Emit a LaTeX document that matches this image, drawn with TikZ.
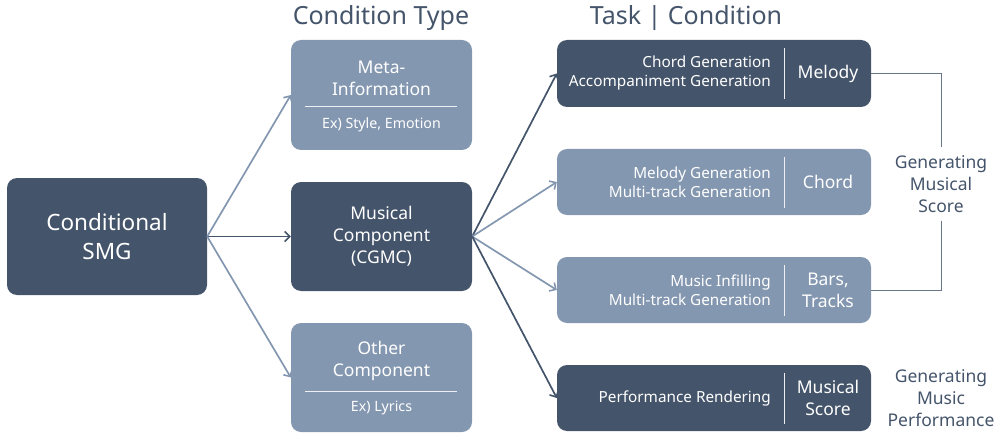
\documentclass[tikz,border=0pt]{standalone}
\usepackage{fontspec}
\setmainfont{Noto Sans}
\usetikzlibrary{arrows.meta}
\definecolor{darkbox}{HTML}{44546A}
\definecolor{lightbox}{HTML}{8497B0}
\definecolor{labeltext}{HTML}{44546A}
\tikzset{
  card/.style={rectangle, rounded corners=10pt, draw=none, text=white, align=center, inner sep=0pt},
  darkcard/.style={card, fill=darkbox},
  lightcard/.style={card, fill=lightbox},
  link/.style={line width=1.7pt, -{Straight Barb[length=5pt,width=10pt,line width=1.6pt]}},
  sep/.style={draw=white!85!lightbox, line width=1pt},
  header/.style={text=labeltext, font=\fontsize{25}{28}\selectfont},
  side/.style={text=labeltext, align=center, font=\fontsize{17.5}{22}\selectfont},
  big/.style={font=\fontsize{22.5}{29}\selectfont},
  mid/.style={font=\fontsize{17.5}{22}\selectfont},
  small/.style={font=\fontsize{15.3}{19}\selectfont, align=right, text=white, inner sep=0pt},
  note/.style={font=\fontsize{14.2}{18}\selectfont, align=center, text=white},
}
\begin{document}
\begin{tikzpicture}[x=1pt, y=-1pt]
\useasboundingbox (0,0) rectangle (1001,433);

% headers
\node[header] (hcond) at (381,18) {Condition Type};
\node[header] (htask) at (686,18) {Task | Condition};

% root
\node[darkcard, big, minimum width=200pt, minimum height=117pt] (smg) at (107,236.5) {Conditional\\SMG};

% condition types
\node[lightcard, minimum width=181pt, minimum height=110pt] (meta) at (381.5,95) {};
\node[mid, text=white, align=center] (metat) at (381.5,78.5) {Meta-\\Information};
\draw[sep] (305,107) -- (457,107);
\node[note] (metas) at (381.5,125) {Ex) Style, Emotion};

\node[darkcard, mid, minimum width=181pt, minimum height=109pt] (comp) at (381.5,236.5) {Musical\\Component\\(CGMC)};

\node[lightcard, minimum width=181pt, minimum height=109pt] (other) at (381.5,377.5) {};
\node[mid, text=white, align=center] (othert) at (381.5,361) {Other\\Component};
\draw[sep] (305,391) -- (457,391);
\node[note] (others) at (381.5,408) {Ex) Lyrics};

% task | condition cards
\node[darkcard, minimum width=314pt, minimum height=67pt] (t1) at (714,73.5) {};
\node[lightcard, minimum width=314pt, minimum height=66pt] (t2) at (714,182) {};
\node[lightcard, minimum width=314pt, minimum height=66pt] (t3) at (714,290) {};
\node[darkcard, minimum width=314pt, minimum height=66pt] (t4) at (714,398) {};

\foreach \n/\y in {t1/73.5, t2/182, t3/290, t4/398}{
  \draw[sep] (784,\y-25.5) -- (784,\y+25.5);
}

\node[small, anchor=east] (t1a) at (771,73.5) {Chord Generation\\Accompaniment Generation};
\node[mid, text=white] (t1b) at (828,73.5) {Melody};
\node[small, anchor=east] (t2a) at (771,182) {Melody Generation\\Multi-track Generation};
\node[mid, text=white] (t2b) at (828,182) {Chord};
\node[small, anchor=east] (t3a) at (771,290) {Music Infilling\\Multi-track Generation};
\node[mid, text=white, align=center] (t3b) at (828,290) {Bars,\\Tracks};
\node[small, anchor=east] (t4a) at (771,398) {Performance Rendering};
\node[mid, text=white, align=center] (t4b) at (828,398) {Musical\\Score};

% side labels
\node[side, inner sep=8pt] (gms) at (941,184) {Generating\\Musical\\Score};
\node[side] (gmp) at (941,398.5) {Generating\\Music\\Performance};

% connectors
\draw[link, lightbox] (smg.east) -- (meta.west);
\draw[link, darkbox] (smg.east) -- (comp.west);
\draw[link, lightbox] (smg.east) -- (other.west);

\draw[link, darkbox] (comp.east) -- (t1.west);
\draw[link, lightbox] (comp.east) -- (t2.west);
\draw[link, lightbox] (comp.east) -- (t3.west);
\draw[link, darkbox] (comp.east) -- (t4.west);

\draw[darkbox!80, line width=1pt] (t1.east) -| (gms.north);
\draw[darkbox!80, line width=1pt] (gms.south) |- (t3.east);
\end{tikzpicture}
\end{document}
